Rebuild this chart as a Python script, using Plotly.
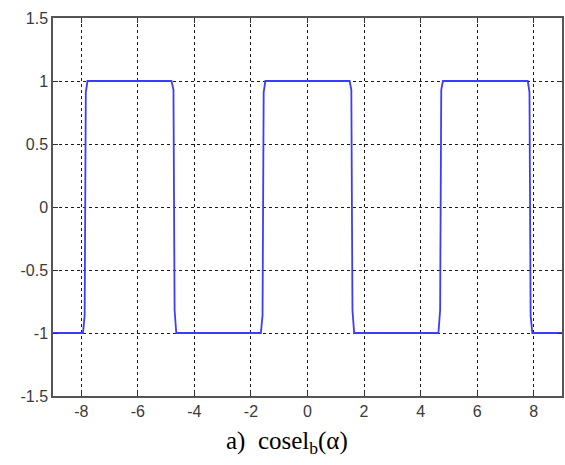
import plotly.graph_objects as go

# Square-wave breakpoints
x_pts = [-9, -7.94, -7.88, -7.84, -7.78,
         -4.81, -4.74, -4.70, -4.64,
         -1.65, -1.59, -1.55, -1.49,
         1.49, 1.55, 1.59, 1.65,
         4.63, 4.69, 4.73, 4.79,
         7.79, 7.85, 7.89, 7.95, 9]
y_pts = [-1, -1, -0.86, 0.91, 1,
         1, 0.93, -0.82, -1,
         -1, -0.86, 0.91, 1,
         1, 0.93, -0.82, -1,
         -1, -0.82, 0.93, 1,
         1, 0.91, -0.86, -1, -1]

x_ticks = [-8, -6, -4, -2, 0, 2, 4, 6, 8]
y_ticks = [-1.5, -1, -0.5, 0, 0.5, 1, 1.5]
y_labels = ["-1.5", "-1", "-0.5", "0", "0.5", "1", "1.5"]
caption = "a)\u00a0\u00a0cosel<sub>b</sub>(α)"

fig = go.Figure()
fig.add_trace(go.Scatter(x=x_pts, y=y_pts, mode="lines",
                         line=dict(color="#3c3cff", width=1.8),
                         hoverinfo="skip", showlegend=False))

axis_common = dict(
    showline=True, linecolor="#555555", linewidth=1.5, mirror="ticks",
    ticks="inside", ticklen=5, tickwidth=1.2, tickcolor="#333333",
    showgrid=True, gridcolor="#1a1a1a", gridwidth=1.2, griddash="3px,3px",
    zeroline=False,
    tickfont=dict(family="Liberation Sans, Arial", size=16, color="#3a3a3a"),
)

fig.update_xaxes(range=[-9, 9], tickvals=x_ticks,
                 ticktext=[str(v) for v in x_ticks], **axis_common)
fig.update_yaxes(range=[-1.5, 1.5], tickvals=y_ticks, ticktext=y_labels,
                 **axis_common)

fig.add_annotation(text=caption, xref="paper", yref="paper",
                   x=0.46, y=-0.122, xanchor="center", yanchor="middle",
                   showarrow=False,
                   font=dict(family="Liberation Serif, Times New Roman", size=25,
                             color="#000000"))

fig.update_layout(width=565, height=465,
                  margin=dict(l=53, r=1, t=18, b=69),
                  plot_bgcolor="white", paper_bgcolor="white")

fig.write_html("out.html")
